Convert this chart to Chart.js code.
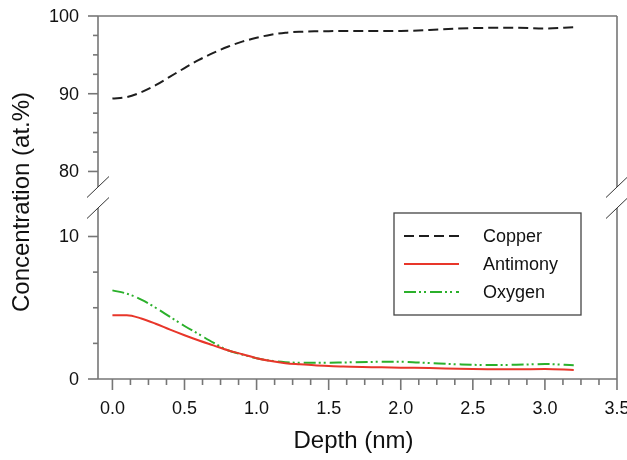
<!DOCTYPE html>
<html><head><meta charset="utf-8">
<script src="https://cdn.jsdelivr.net/npm/chart.js@4.4.1/dist/chart.umd.min.js"></script>
<style>html,body{margin:0;padding:0;background:#fff}#wrap{width:627px;height:460px;position:relative}</style>
</head><body><div id="wrap"><canvas id="c" width="627" height="460"></canvas></div>
<script>
const depth    = [0, 0.1, 0.2, 0.3, 0.4, 0.5, 0.6, 0.7, 0.8, 0.9, 1.0, 1.1, 1.2, 1.3, 1.4, 1.5, 1.6, 1.8, 2.0, 2.2, 2.4, 2.6, 2.8, 3.0, 3.2];
const copper   = [89.38, 89.56, 90.2, 91.1, 92.2, 93.3, 94.35, 95.25, 96.05, 96.7, 97.2, 97.6, 97.85, 97.97, 98.03, 98.05, 98.07, 98.07, 98.08, 98.2, 98.38, 98.48, 98.5, 98.4, 98.55];
const antimony = [4.48, 4.48, 4.25, 3.88, 3.46, 3.07, 2.7, 2.36, 2.02, 1.74, 1.46, 1.26, 1.11, 1.03, 0.96, 0.91, 0.87, 0.83, 0.79, 0.77, 0.72, 0.69, 0.68, 0.7, 0.63];
const oxygen   = [6.22, 5.99, 5.57, 5.0, 4.36, 3.72, 3.14, 2.55, 2.02, 1.72, 1.46, 1.28, 1.18, 1.14, 1.14, 1.14, 1.16, 1.2, 1.21, 1.12, 1.03, 0.98, 1.0, 1.05, 0.96];
const seriesNames = ['Copper', 'Antimony', 'Oxygen'];
const xTicks    = [0, 0.5, 1.0, 1.5, 2.0, 2.5, 3.0, 3.5];
const yTopTicks = [80, 90, 100];
const yBotTicks = [0, 10];
const xRange   = [-0.1, 3.5];
const topRange = [78, 100];
const botRange = [0, 12];
const xTitle = 'Depth (nm)';
const yTitle = 'Concentration (at.%)';

// layout: two equal segments with a gap
const SEG = 171, GAP = 21, TOTAL = SEG * 2 + GAP;
const topMin = topRange[1] - (topRange[1] - topRange[0]) * TOTAL / SEG;
const botMax = botRange[0] + (botRange[1] - botRange[0]) * TOTAL / SEG;

const FONT = '"Liberation Sans", Arial, Helvetica, sans-serif';
const AXC = '#767676';

const styles = [
  {color: '#1e1e1e', dash: [10, 5], axis: 'yTop', data: copper},
  {color: '#e8362a', dash: [], axis: 'yBot', data: antimony},
  {color: '#2bb02b', dash: [12, 3, 2, 3, 2, 4], axis: 'yBot', data: oxygen}
];

function line(ctx, x1, y1, x2, y2) { ctx.beginPath(); ctx.moveTo(x1, y1); ctx.lineTo(x2, y2); ctx.stroke(); }

const axesPlugin = {
  id: 'brokenAxes',
  afterDatasetsDraw(chart) {
    const ctx = chart.ctx, ca = chart.chartArea;
    const xs = chart.scales.x, yt = chart.scales.yTop, yb = chart.scales.yBot;
    const L = ca.left, R = ca.right, T = ca.top, B = ca.bottom;
    const topEnd = yt.getPixelForValue(topRange[0]);
    const botStart = yb.getPixelForValue(botRange[1]);
    ctx.save();
    ctx.strokeStyle = AXC; ctx.lineWidth = 1.6; ctx.setLineDash([]);
    line(ctx, L, T, R, T);
    line(ctx, L, T, L, topEnd); line(ctx, L, botStart, L, B);
    line(ctx, R, T, R, topEnd); line(ctx, R, botStart, R, B);
    line(ctx, L, B, R, B);
    // y ticks (top)
    ctx.fillStyle = '#111'; ctx.font = '18px ' + FONT; ctx.textAlign = 'right'; ctx.textBaseline = 'middle';
    for (let v = Math.ceil(topRange[0] / 2.5) * 2.5; v <= topRange[1] + 1e-9; v += 2.5) {
      const y = yt.getPixelForValue(v); const major = yTopTicks.includes(v);
      line(ctx, L - (major ? 10 : 5), y, L, y);
    }
    yTopTicks.forEach(v => ctx.fillText(String(v), L - 19, yt.getPixelForValue(v) + 1));
    for (let v = botRange[0]; v <= botRange[1] + 1e-9; v += 2.5) {
      const y = yb.getPixelForValue(v); const major = yBotTicks.includes(v);
      line(ctx, L - (major ? 10 : 5), y, L, y);
    }
    yBotTicks.forEach(v => ctx.fillText(String(v), L - 19, yb.getPixelForValue(v) + 1));
    // x ticks
    for (let v = 0; v <= xRange[1] + 1e-9; v += 0.125) {
      const x = xs.getPixelForValue(v); const major = Math.abs(v * 2 - Math.round(v * 2)) < 1e-6;
      line(ctx, x, B, x, B + (major ? 11 : 6));
    }
    ctx.textAlign = 'center';
    xTicks.forEach(v => ctx.fillText(v.toFixed(1), xs.getPixelForValue(v), B + 30));
    // break marks
    ctx.strokeStyle = '#333'; ctx.lineWidth = 1;
    [L, R].forEach(x => {
      [topEnd, botStart].forEach(y => line(ctx, x - 11, y + 10.5, x + 11, y - 10.5));
    });
    // titles
    ctx.fillStyle = '#111';
    ctx.font = '24px ' + FONT; ctx.textAlign = 'center'; ctx.textBaseline = 'middle';
    ctx.fillText(xTitle, (L + R) / 2 - 4, B + 62);
    ctx.save(); ctx.translate(22, 202); ctx.rotate(-Math.PI / 2); ctx.fillText(yTitle, 0, 0); ctx.restore();
    // legend
    const lx = 394, ly = 213, lw = 187, lh = 102;
    ctx.fillStyle = '#fff'; ctx.fillRect(lx, ly, lw, lh);
    ctx.strokeStyle = '#444'; ctx.lineWidth = 1.3; ctx.strokeRect(lx, ly, lw, lh);
    ctx.font = '18px ' + FONT; ctx.textAlign = 'left'; ctx.textBaseline = 'middle';
    styles.forEach((s, i) => {
      const y = ly + 23 + i * 28;
      ctx.strokeStyle = s.color; ctx.lineWidth = 2; ctx.setLineDash(s.dash);
      line(ctx, lx + 10, y, lx + 65, y);
      ctx.setLineDash([]);
      ctx.fillStyle = '#111'; ctx.fillText(seriesNames[i], lx + 89, y + 1);
    });
    ctx.restore();
  }
};

new Chart(document.getElementById('c'), {
  type: 'line',
  data: {
    datasets: styles.map((s, i) => ({
      label: seriesNames[i],
      data: depth.map((d, k) => ({x: d, y: s.data[k]})),
      yAxisID: s.axis,
      borderColor: s.color, borderWidth: 2, borderDash: s.dash,
      pointRadius: 0, fill: false, cubicInterpolationMode: 'monotone'
    }))
  },
  options: {
    responsive: false, animation: false, events: [],
    layout: {padding: {left: 98, right: 10, top: 16, bottom: 81}},
    scales: {
      x: {type: 'linear', min: xRange[0], max: xRange[1], display: false},
      yTop: {type: 'linear', position: 'left', min: topMin, max: topRange[1], display: false},
      yBot: {type: 'linear', position: 'left', min: botRange[0], max: botMax, display: false}
    },
    plugins: {legend: {display: false}, tooltip: {enabled: false}}
  },
  plugins: [axesPlugin]
});
</script></body></html>
